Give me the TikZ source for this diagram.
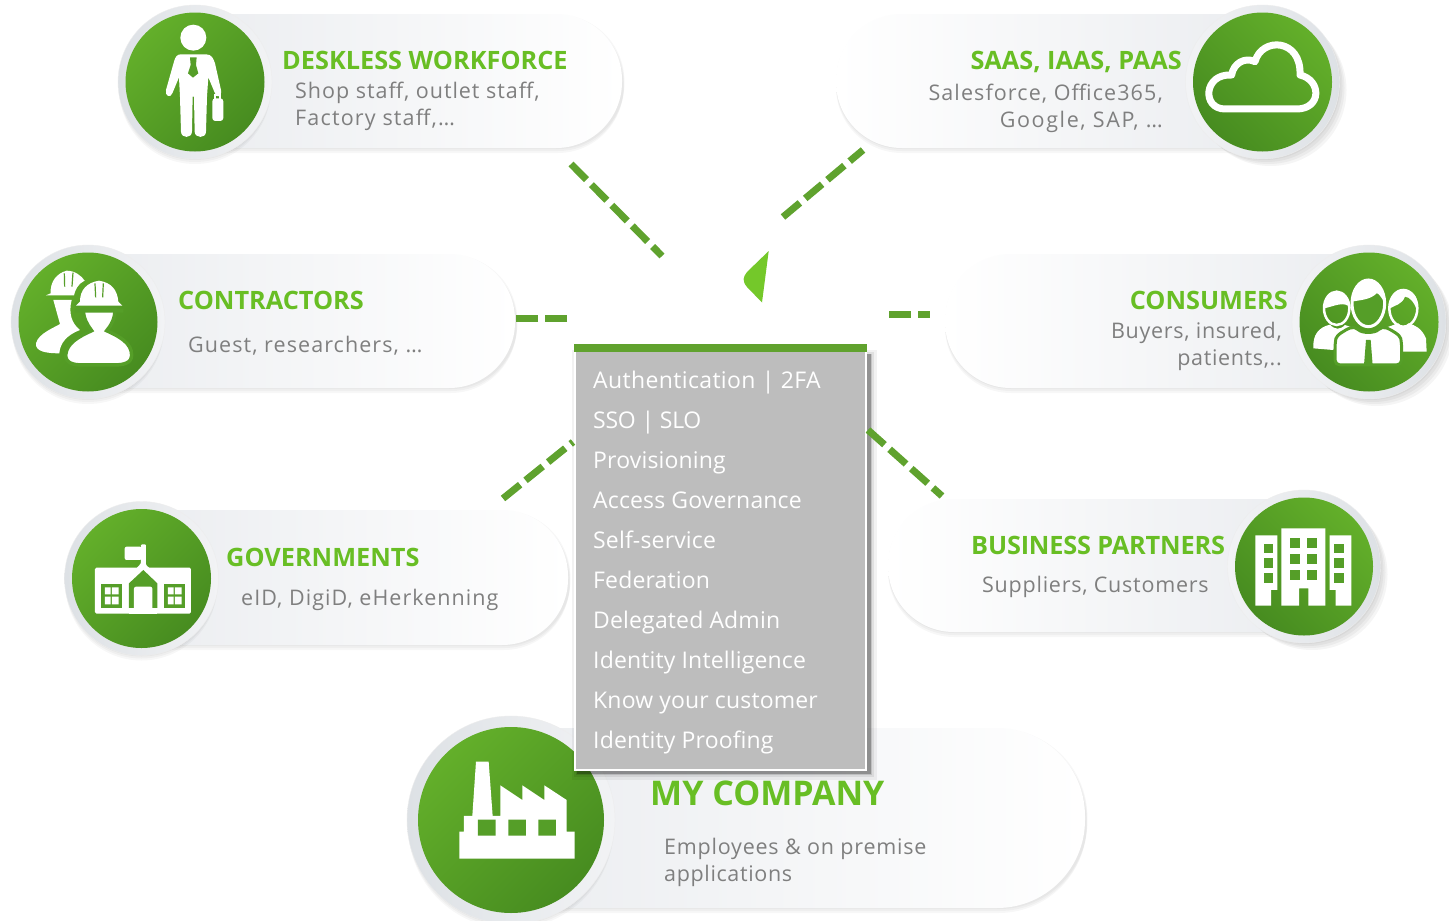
\documentclass[tikz,border=0pt]{standalone}
\usepackage{fontspec}
\setmainfont{Open Sans}
\newfontfamily\headfont{Open Sans}
\newfontfamily\bodyfont{Open Sans}
\newcommand\ls[1]{\addfontfeature{LetterSpace=#1}}
\usetikzlibrary{calc}
\definecolor{gbar}{HTML}{60A22E}
\definecolor{gdash}{HTML}{5FA22E}
\definecolor{ghead}{HTML}{68BE24}
\definecolor{gtext}{HTML}{7F7F7F}
\definecolor{glight}{HTML}{63AF2A}
\definecolor{gdark}{HTML}{478C20}
\definecolor{gmid}{HTML}{559E28}
\definecolor{ringc}{HTML}{DDE1E5}
\definecolor{ringf}{HTML}{F2F3F5}
\definecolor{pillc}{HTML}{EBEDF0}
\definecolor{panel}{HTML}{BDBDBD}
\definecolor{drop}{HTML}{74C82A}
\tikzset{
  x=1pt,y=-1pt,
  dashline/.style={draw=gdash,line width=7pt,dash pattern=on 22pt off 7pt},
  headtext/.style={text=ghead,inner sep=0pt,font=\fontsize{25.3}{25.3}\headfont\bfseries},
  bigheadtext/.style={text=ghead,inner sep=0pt,font=\fontsize{34}{34}\headfont\bfseries},
  subtext/.style={text=gtext,inner sep=0pt,font=\fontsize{21.5}{21.5}\bodyfont},
  paneltext/.style={text=white,inner sep=0pt,anchor=base west,font=\fontsize{23}{23}\bodyfont\ls{0.7}},
}
% x0 x1 y0 y1 radius: pill growing to the right
\newcommand\pillR[5]{%
  \foreach \o/\s in {1/2.4,3/2.2,5/1.6}{\fill[black,opacity=.03] (#1+1,#3+\o) [rounded corners=#5pt] -- (#2+\s,#3+\o) -- (#2+\s,#4+\o) [sharp corners] -- (#1+1,#4+\o) -- cycle;}
  \shade[left color=pillc,right color=white] (#1,#3) [rounded corners=#5pt] -- (#2,#3) -- (#2,#4) [sharp corners] -- (#1,#4) -- cycle;}
\newcommand\pillL[5]{%
  \foreach \o in {1,3,5}{\fill[black,opacity=.03] (#2,#3+\o) [rounded corners=#5pt] -- (#1,#3+\o) -- (#1,#4+\o) [sharp corners] -- (#2,#4+\o) -- cycle;}
  \shade[left color=white,right color=pillc] (#2,#3) [rounded corners=#5pt] -- (#1,#3) -- (#1,#4) [sharp corners] -- (#2,#4) -- cycle;}
% cx cy r-green r-ring : icon on the left of its pill
\newcommand\badgeL[4]{%
  \foreach \o in {2,4,6}{\fill[black,opacity=.03] (#1,#2+\o) circle[radius=#4-1];}
  \shade[left color=ringc,right color=ringf] (#1,#2) circle[radius=#4];
  \draw[black!7,line width=.4pt] (#1,#2) circle[radius=#4];
  \shade[left color=glight,right color=gdark,shading angle=45] (#1,#2) circle[radius=#3];}
\newcommand\badgeR[4]{%
  \foreach \o in {2,4,6,8}{\fill[black,opacity=.04] (#1+\o,#2+\o) circle[radius=#4-1];}
  \shade[left color=ringf,right color=ringc] (#1,#2) circle[radius=#4];
  \draw[black!7,line width=.4pt] (#1,#2) circle[radius=#4];
  \shade[left color=glight,right color=gdark,shading angle=-45] (#1,#2) circle[radius=#3];}
\begin{document}
\begin{tikzpicture}
\useasboundingbox (0,0) rectangle (1449,921);
\fill[white] (0,0) rectangle (1449,921);

% pills
\pillR{195}{622}{14}{148}{66}
\pillL{836}{1262}{14}{148}{66}
\pillR{88}{515}{254}{388}{66}
\pillL{945}{1369}{254}{388}{66}
\pillR{141}{568}{510}{645}{66}
\pillL{888}{1304}{499}{632}{66}
\pillR{511}{1085}{728}{908}{88}

% badges
\badgeL{195}{82}{69.5}{77}
\badgeR{1262.5}{82}{69.5}{77}
\badgeL{88}{322}{69.5}{77}
\badgeR{1369}{322}{69.5}{77}
\badgeL{141.5}{578.5}{69.5}{77}
\badgeR{1304}{566.5}{69}{76.5}
\badgeL{511}{820}{93}{104}

% person
\begin{scope}[shift={(100,0)},x=.3333pt,y=-.3333pt]
  \fill[white] (280,113) circle[radius=39];
  \fill[white] (242,163) -- (318,163) .. controls (335,163) and (340,175) .. (345,190) -- (363,270) .. controls (366,292) and (350,295) .. (345,280) -- (325,232) -- (321,290) -- (318,395) .. controls (318,416) and (285,416) .. (284,395) -- (282,290) -- (278,290) -- (276,395) .. controls (275,416) and (244,416) .. (243,395) -- (240,290) -- (237,232) -- (217,280) .. controls (212,295) and (193,288) .. (198,270) -- (222,185) .. controls (226,170) and (232,163) .. (242,163) -- cycle;
  \fill[gmid] (270,172) -- (290,172) -- (288,195) -- (295,220) -- (279,233) -- (264,220) -- (272,195) -- cycle;
  \fill[white,rounded corners=3pt] (337,295) rectangle (370,363);
  \draw[white,line width=2pt] (345,296) -- (345,285) -- (360,285) -- (360,296);
\end{scope}

% cloud
\begin{scope}[shift={(1180,0)},x=.3333pt,y=-.3333pt]
  \draw[white,line width=7pt,line join=round] (135,327) -- (350,327) .. controls (425,327) and (425,240) .. (360,225) .. controls (365,115) and (245,110) .. (225,185) .. controls (195,170) and (160,190) .. (155,225) .. controls (70,220) and (65,327) .. (135,327) -- cycle;
\end{scope}

% contractors
\begin{scope}[shift={(0,240)},x=.3333pt,y=-.3333pt]
  \fill[white] (108,310) .. controls (115,280) and (165,262) .. (180,252) -- (160,180) -- (215,180) .. controls (205,220) and (215,250) .. (240,270) .. controls (200,285) and (180,310) .. (178,340) .. controls (140,340) and (105,335) .. (108,310) -- cycle;
  \fill[white] (138,166) -- (152,160) .. controls (150,125) and (170,100) .. (200,92) .. controls (225,92) and (245,108) .. (254,122) .. controls (235,130) and (225,150) .. (222,166) -- cycle;
  \draw[gmid,line width=1.2pt] (193,100) -- (194,140) (219,98) -- (216,140);
  \draw[gmid,line width=3.5pt,fill=white] (197,345) .. controls (200,310) and (235,290) .. (275,272) .. controls (262,255) and (250,235) .. (250,208) -- (345,208) .. controls (345,235) and (335,255) .. (320,272) .. controls (360,290) and (395,310) .. (395,345) .. controls (395,370) and (370,375) .. (340,375) -- (250,375) .. controls (220,375) and (197,370) .. (197,345) -- cycle;
  \draw[gmid,line width=4pt] (225,212) -- (370,212) (225,190) -- (240,200);
  \fill[white] (228,197) -- (240,185) .. controls (240,150) and (260,128) .. (297,122) .. controls (335,128) and (352,150) .. (355,185) -- (367,197) -- cycle;
  \draw[gmid,line width=1.2pt] (285,130) -- (287,172) (310,130) -- (308,172);
\end{scope}

% consumers
\begin{scope}[shift={(1280,240)},x=.3333pt,y=-.3333pt]
  \fill[white] (100,325) .. controls (98,285) and (115,262) .. (150,254) .. controls (165,270) and (180,270) .. (195,255) -- (215,262) -- (170,295) -- (160,330) -- cycle;
  \draw[white,line width=2.5pt] (170,205) ellipse[x radius=38,y radius=50];
  \fill[white] (132,205) .. controls (130,170) and (155,155) .. (175,157) .. controls (195,157) and (210,175) .. (212,205) .. controls (195,180) and (160,200) .. (132,205) -- cycle;
  \fill[white] (280,335) -- (440,335) -- (438,295) .. controls (425,265) and (405,255) .. (385,250) -- (370,265) -- (355,250) -- (320,262) -- cycle;
  \draw[white,line width=2.5pt] (370,205) ellipse[x radius=42,y radius=55];
  \fill[white] (330,205) .. controls (325,170) and (350,150) .. (372,150) .. controls (405,150) and (418,180) .. (412,215) .. controls (405,190) and (390,170) .. (375,170) .. controls (365,195) and (345,195) .. (330,205) -- cycle;
  \draw[gmid,line width=3pt,fill=white,rounded corners=5pt] (165,375) -- (165,310) .. controls (170,285) and (195,270) .. (225,258) .. controls (245,280) and (285,280) .. (305,258) .. controls (335,270) and (360,285) .. (365,310) -- (365,375) -- cycle;
  \fill[gmid] (258,300) -- (272,300) -- (278,376) -- (252,376) -- cycle;
  \draw[white,line width=3pt,fill=gmid] (265,190) ellipse[x radius=49,y radius=70];
  \fill[white] (215,185) .. controls (215,140) and (240,120) .. (265,120) .. controls (295,120) and (317,145) .. (315,190) .. controls (300,165) and (295,160) .. (290,160) .. controls (270,180) and (240,180) .. (215,185) -- cycle;
\end{scope}

% school
\begin{scope}[shift={(60,495)},x=.3333pt,y=-.3333pt]
  \fill[white,rounded corners=1.5pt] (105,218) rectangle (393,356);
  \fill[white,rounded corners=2pt] (194,155) -- (245,155) -- (245,195) -- (194,195) -- cycle;
  \fill[white,rounded corners=1pt] (243,148) -- (258,148) -- (258,210) -- (275,225) -- (225,225) -- (243,205) -- cycle;
  \fill[gmid] (207,339) -- (207,265) -- (250,225) -- (292,265) -- (292,339) -- cycle;
  \fill[white,rounded corners=2pt] (222,345) -- (222,275) -- (277,275) -- (277,345) -- cycle;
  \fill[white] (207,339) rectangle (292,356);
  \fill[gmid] (123,267) rectangle (187,339);
  \fill[gmid] (312,267) rectangle (375,339);
  \fill[white] (135,277) rectangle (152,298) (156,277) rectangle (176,298) (135,305) rectangle (152,328) (156,305) rectangle (176,328);
  \fill[white] (324,277) rectangle (341,298) (345,277) rectangle (365,298) (324,305) rectangle (341,328) (345,305) rectangle (365,328);
\end{scope}

% offices
\begin{scope}[shift={(1220,485)},x=.3333pt,y=-.3333pt]
  \fill[white] (106,151) -- (172,151) -- (172,315) -- (153,315) -- (153,362) -- (106,362) -- cycle;
  \fill[white] (184,130) -- (316,130) -- (316,362) -- (265,362) -- (265,310) -- (237,310) -- (237,362) -- (184,362) -- cycle;
  \fill[white] (329,151) -- (394,151) -- (394,362) -- (347,362) -- (347,315) -- (329,315) -- cycle;
  \foreach \y in {176,220,265}{\fill[gmid] (131,\y) rectangle +(29,28); \fill[gmid] (343,\y) rectangle +(29,28);}
  \foreach \y in {158,207,256}{\fill[gmid] (211,\y) rectangle +(29,30); \fill[gmid] (260,\y) rectangle +(30,30);}
\end{scope}

% factory
\begin{scope}[shift={(400,710)},x=.3333pt,y=-.3333pt]
  \fill[white] (228,155) -- (266,155) -- (278,318) -- (301,318) -- (301,226) -- (367,270) -- (367,226) -- (433,270) -- (433,226) -- (500,270) -- (500,365) -- (524,365) -- (524,446) -- (178,446) -- (178,365) -- (192,365) -- (192,318) -- (217,318) -- cycle;
  \fill[gmid] (234,329) rectangle (287,377) (325,329) rectangle (378,377) (415,329) rectangle (468,377);
\end{scope}

% texts
\node[headtext,anchor=base west] (t1) at (282,69.5) {DESKLESS WORKFORCE};
\node[subtext,anchor=base west] (t1a) at (295,98) {\ls{4.5}Shop staff, outlet staff,};
\node[subtext,anchor=base west] (t1b) at (295,125) {\ls{5.5}Factory staff,…};
\node[headtext,anchor=base east] (t2) at (1182,69.5) {SAAS, IAAS, PAAS};
\node[subtext,anchor=base east] (t2a) at (1163,100) {\ls{5.1}Salesforce, Office365,};
\node[subtext,anchor=base east] (t2b) at (1163,127) {\ls{7.6}Google, SAP, …};
\node[headtext,anchor=base west] (t3) at (178,309.5) {CONTRACTORS};
\node[subtext,anchor=base west] (t3a) at (188,352) {\ls{5}Guest, researchers, …};
\node[headtext,anchor=base east] (t4) at (1288,309.5) {CONSUMERS};
\node[subtext,anchor=base east] (t4a) at (1282,338) {\ls{3.3}Buyers, insured,};
\node[subtext,anchor=base east] (t4b) at (1282,365) {\ls{3}patients,..};
\node[headtext,anchor=base west] (t5) at (226,566.5) {GOVERNMENTS};
\node[subtext,anchor=base west] (t5a) at (241,605) {\ls{4.9}eID, DigiD, eHerkenning};
\node[headtext,anchor=base west] (t6) at (971,554.5) {\ls{-0.7}BUSINESS PARTNERS};
\node[subtext,anchor=base west] (t6a) at (982,592) {\ls{3.5}Suppliers, Customers};
\node[subtext,anchor=base west] (t7a) at (664,854) {\ls{3.6}Employees \& on premise};
\node[subtext,anchor=base west] (t7b) at (664,881) {\ls{3}applications};

% centre panel
\fill[black,opacity=.05] (572,350) rectangle (877,780);
\fill[black,opacity=.07] (574,352) rectangle (874,777);
\fill[black,opacity=.12] (576,354) rectangle (872,775);
\fill[black,opacity=.25] (577,354) rectangle (871,774);
\draw[white,line width=1.6pt,fill=panel] (574.8,345) rectangle (866.2,770.2);
\node[fill=gbar,minimum width=293.4pt,minimum height=8pt,inner sep=0pt,anchor=north west] (bar) at (573.3,344) {};
\node[bigheadtext,anchor=base west] (t7) at (650,805.5) {MY COMPANY};
\node[paneltext] (p1) at (593,388) {\ls{1.6}Authentication | 2FA};
\node[paneltext] (p2) at (593,428) {\ls{-1.2}SSO | SLO};
\node[paneltext] (p3) at (593,468) {Provisioning};
\node[paneltext] (p4) at (593,508) {Access Governance};
\node[paneltext] (p5) at (593,548) {Self-service};
\node[paneltext] (p6) at (593,588) {Federation};
\node[paneltext] (p7) at (593,628) {Delegated Admin};
\node[paneltext] (p8) at (593,668) {Identity Intelligence};
\node[paneltext] (p9) at (593,708) {Know your customer};
\node[paneltext] (p10) at (593,748) {Identity Proofing};

% connectors
\coordinate (c1a) at (571,164); \coordinate (c1b) at (662,256);
\coordinate (c2a) at (783,217); \coordinate (c2b) at (863,150);
\coordinate (c3a) at (567,318.5); \coordinate (c3b) at (516,318.5);
\coordinate (c4a) at (889,314.5); \coordinate (c4b) at (930,314.5);
\coordinate (c5a) at (503,498.5); \coordinate (c5b) at (573,442);
\coordinate (c6a) at (868,430); \coordinate (c6b) at (942,496);
\draw[dashline] (c1a) -- (c1b);
\draw[dashline] (c2a) -- (c2b);
\draw[dashline] (c3a) -- (c3b);
\draw[dashline] (c4a) -- (c4b);
\draw[dashline] (c5a) -- (c5b);
\draw[dashline] (c6a) -- (c6b);

% green point
\fill[drop] (768.7,251) -- (762,302.5) -- (747,287) .. controls (742,281) and (743,277) .. (747,272) -- cycle;
\end{tikzpicture}
\end{document}
